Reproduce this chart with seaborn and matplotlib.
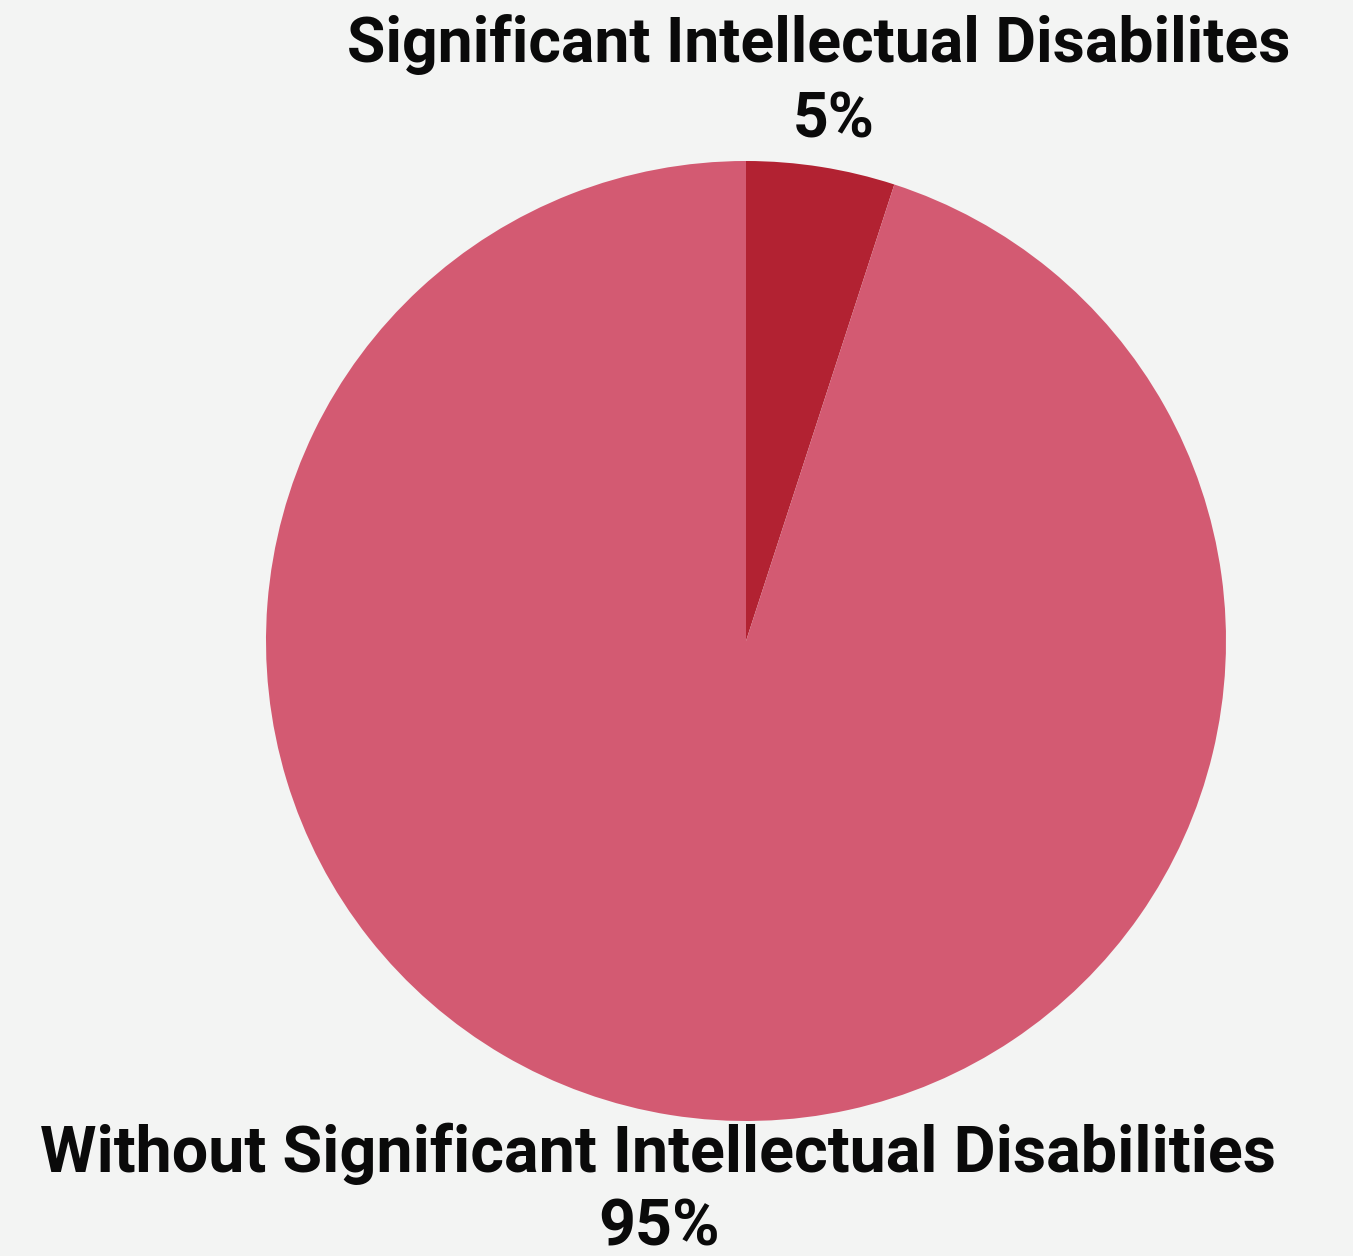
import matplotlib
matplotlib.use("Agg")
import matplotlib.pyplot as plt
import seaborn as sns

categories = ["Significant Intellectual Disabilites", "Without Significant Intellectual Disabilities"]
values = [5, 95]
pct_labels = ["5%", "95%"]
colors = ["#b22232", "#d35a72"]

sns.set_theme(style="white")
plt.rcParams['font.family'] = ['Roboto', 'DejaVu Sans']

W, H = 1353, 1256
bg = "#f3f4f3"
fig = plt.figure(figsize=(W / 100, H / 100), dpi=100, facecolor=bg)

cx, cy, r = 746, 641, 480
ax = fig.add_axes([(cx - r) / W, (H - cy - r) / H, 2 * r / W, 2 * r / H])
ax.set_facecolor(bg)
ax.pie(values, colors=colors, startangle=90, counterclock=False, radius=1,
       wedgeprops=dict(linewidth=0))
ax.set_xlim(-1, 1)
ax.set_ylim(-1, 1)
ax.set_aspect('equal')
ax.axis('off')

def put(x, ybase, s, fs):
    fig.text(x / W, (H - ybase) / H, s, ha='center', va='baseline',
             fontsize=fs, fontweight='bold', color='#0a0a0a')

put(819, 62, categories[0], 45)
put(834, 138, pct_labels[0], 45)
put(658, 1172, categories[1], 46.5)
put(659, 1245, pct_labels[1], 46.5)

fig.savefig("out.png", dpi=100, facecolor=bg)
